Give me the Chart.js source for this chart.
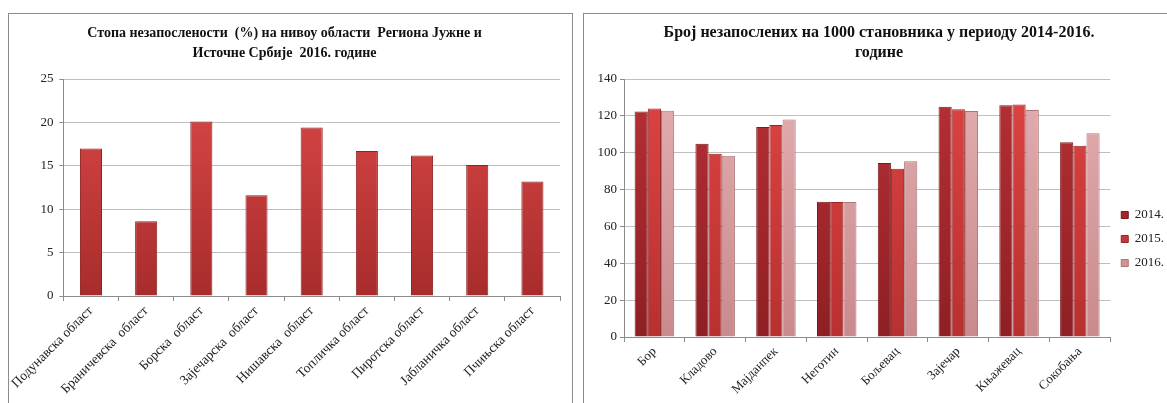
<!DOCTYPE html>
<html>
<head>
<meta charset="utf-8">
<script src="https://cdn.jsdelivr.net/npm/chart.js@4.4.0/dist/chart.umd.min.js"></script>
<style>
html,body{margin:0;padding:0;background:#fff;width:1167px;height:403px;overflow:hidden;position:relative}
.box{position:absolute;border:1px solid #8c8c8c;background:#fff}
#box1{left:8px;top:13px;width:563px;height:400px}
#box2{left:583px;top:13px;width:592px;height:400px}
.box canvas{position:absolute;left:0;top:0}
</style>
</head>
<body>
<div class="box" id="box1"><canvas id="chart1" width="563" height="390"></canvas></div>
<div class="box" id="box2"><canvas id="chart2" width="590" height="390"></canvas></div>
<script>
// лево: стопа незапослености по областима
const title1 = ["Стопа незапослености  (%) на нивоу области  Региона Јужне и", "Источне Србије  2016. године"];
const regions = ["Подунавска област","Браничевска  област","Борска  област","Зајечарска  област","Нишавска  област","Топличка област","Пиротска област","Јабланичка област","Пчињска област"];
const rates2016 = [17.0, 8.6, 20.1, 11.6, 19.4, 16.7, 16.2, 15.1, 13.2];

// десно: број незапослених на 1000 становника
const title2 = ["Број незапослених на 1000 становника у периоду 2014-2016.", "године"];
const towns = ["Бор","Кладово","Мајданпек","Неготин","Бољевац","Зајечар","Књажевац","Сокобања"];
const years = ["2014.","2015.","2016."];
const y2014 = [122.3, 104.8, 114.0, 73.4, 94.4, 125.0, 125.8, 105.7];
const y2015 = [124.0, 99.4, 115.0, 73.2, 91.3, 123.6, 126.2, 103.8];
const y2016 = [122.8, 98.4, 118.0, 73.3, 95.4, 122.6, 123.2, 110.6];

const SERIF = "'Liberation Serif', 'DejaVu Serif', serif";

// вертикални градијент, светлије горе
function grad(top, bottom){
  return (ctx)=>{
    const area = ctx.chart.chartArea;
    if(!area) return bottom;
    const g = ctx.chart.ctx.createLinearGradient(0, area.top, 0, area.bottom);
    g.addColorStop(0, top);
    g.addColorStop(1, bottom);
    return g;
  };
}

function yScale(max, step, width, pad){
  return {
    min:0, max:max,
    ticks:{stepSize:step, color:"#222", padding:pad, font:{family:SERIF, size:13}},
    grid:{color:"#bfbfbf", lineWidth:1, tickLength:4, tickColor:"#8c8c8c"},
    border:{color:"#8c8c8c"},
    afterFit:(s)=>{ s.width = width; }
  };
}

function xScale(height, size){
  return {
    ticks:{color:"#222", minRotation:45, maxRotation:45, autoSkip:false, padding:2, font:{family:SERIF, size:size}},
    grid:{drawOnChartArea:false, tickLength:5, color:"#8c8c8c"},
    border:{color:"#8c8c8c"},
    afterFit:(s)=>{ s.height = height; }
  };
}

function titleOpts(lines, size){
  return {
    display:true, text:lines, color:"#111",
    font:{family:SERIF, size:size, weight:"bold", lineHeight:20/size},
    padding:{top:9, bottom:16}
  };
}

new Chart(document.getElementById("chart1"), {
  type:"bar",
  data:{
    labels:regions,
    datasets:[{
      label:"2016.",
      data:rates2016,
      backgroundColor:grad("#dc4848", "#a82c2c"),
      borderColor:"#8e2222",
      borderWidth:1,
      barPercentage:0.4,
      categoryPercentage:1
    }]
  },
  options:{
    responsive:false, animation:false,
    layout:{padding:{left:0, right:12, top:0, bottom:0}},
    plugins:{legend:{display:false}, title:titleOpts(title1, 14), tooltip:{enabled:false}},
    scales:{x:xScale(108, 13.5), y:yScale(25, 5, 54, 6)}
  }
});

new Chart(document.getElementById("chart2"), {
  type:"bar",
  data:{
    labels:towns,
    datasets:[
      {label:years[0], data:y2014, backgroundColor:grad("#b73034", "#8e1f24"), borderColor:"#7a1a1e", borderWidth:1},
      {label:years[1], data:y2015, backgroundColor:grad("#de4444", "#b83030"), borderColor:"#962626", borderWidth:1},
      {label:years[2], data:y2016, backgroundColor:grad("#e3aeb0", "#c98a8d"), borderColor:"#ad7578", borderWidth:1}
    ]
  },
  options:{
    responsive:false, animation:false,
    datasets:{bar:{barPercentage:1, categoryPercentage:0.65}},
    layout:{padding:0},
    plugins:{
      tooltip:{enabled:false},
      title:titleOpts(title2, 16),
      legend:{
        position:"right", align:"center",
        // празан наслов легенде само спушта ставке ниже, као у Excel-у
        title:{display:true, text:"", padding:{top:40, bottom:0}, font:{size:20, lineHeight:1}},
        labels:{boxWidth:7, boxHeight:7, padding:11, color:"#222", font:{family:SERIF, size:13}}
      }
    },
    scales:{x:xScale(67, 13), y:yScale(140, 20, 40, 3)}
  }
});
</script>
</body>
</html>
